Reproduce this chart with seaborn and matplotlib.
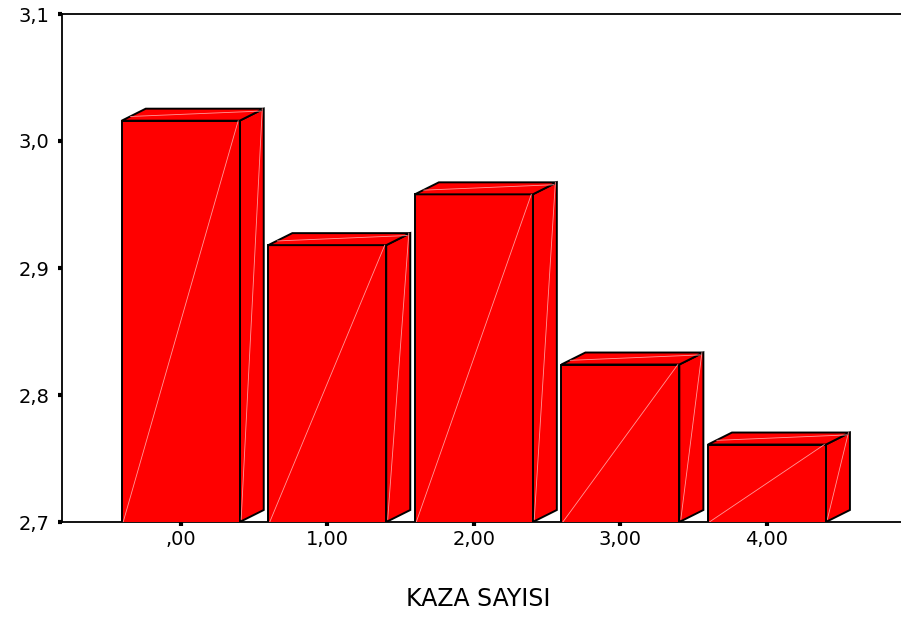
import matplotlib
matplotlib.use("Agg")
import matplotlib.pyplot as plt
from matplotlib.patches import Polygon
import seaborn as sns
import pandas as pd

# Mean score by number of accidents
categories = [",00", "1,00", "2,00", "3,00", "4,00"]
means = [3.016, 2.918, 2.958, 2.824, 2.761]
y_ticks = [2.7, 2.8, 2.9, 3.0, 3.1]
y_tick_labels = ["2,7", "2,8", "2,9", "3,0", "3,1"]

sns.set_theme(style="white")
plt.rcParams["font.family"] = ["DejaVu Sans"]

fig = plt.figure(figsize=(9.01, 6.23), dpi=100)
W, H = 901, 623
left, right, top, bottom = 62, 901, 14, 522
ax = fig.add_axes([left / W, 1 - bottom / H, (right - left) / W, (bottom - top) / H])

df = pd.DataFrame({"KAZA SAYISI": categories, "mean": means})
bar_w = 0.805
sns.barplot(data=df, x="KAZA SAYISI", y="mean", color="#ff0000", saturation=1,
            width=bar_w, edgecolor="black", linewidth=1.4, ax=ax, zorder=3)

ymin, ymax = 2.7, 3.1
ax.set_ylim(ymin, ymax)
ax.set_xlim(-0.81, 4.915)

# extruded top and side faces for the 3D look
dx = 0.164
dy = 12 / (bottom - top) * (ymax - ymin)
hl = dict(color="#ff9a9a", lw=0.6, zorder=5)
for p in ax.patches:
    x0 = p.get_x()
    x1 = x0 + p.get_width()
    v = p.get_y() + p.get_height()
    side = Polygon([(x1, ymin), (x1 + dx, ymin + dy), (x1 + dx, v + dy), (x1, v)],
                   closed=True, facecolor="#ff0000", edgecolor="black", lw=1.4, zorder=2)
    topf = Polygon([(x0, v), (x0 + dx, v + dy), (x1 + dx, v + dy), (x1, v)],
                   closed=True, facecolor="#ff0000", edgecolor="black", lw=1.4, zorder=4)
    ax.add_patch(side)
    ax.add_patch(topf)
    # faint shading seams across each face
    ax.plot([x0 + 0.01, x1 - 0.01], [ymin, v], **hl)
    ax.plot([x1 + 0.01, x1 + dx - 0.01], [ymin + 0.002, v + dy], **hl)
    ax.plot([x0 + 0.06, x1 + dx - 0.02], [v + dy * 0.35, v + dy * 0.8], **hl)

ax.set_yticks(y_ticks)
ax.set_yticklabels(y_tick_labels)
ax.tick_params(axis="both", which="both", direction="out", length=3, width=3,
               color="black", labelsize=14, labelcolor="black",
               bottom=True, left=True)
ax.tick_params(axis="y", pad=6)
ax.tick_params(axis="x", pad=3)

for s in ["left", "top", "bottom"]:
    ax.spines[s].set_visible(True)
    ax.spines[s].set_color("black")
    ax.spines[s].set_linewidth(1.3)
ax.spines["right"].set_visible(False)

ax.set_ylabel("")
ax.set_xlabel("KAZA SAYISI", fontsize=17, color="black")
ax.xaxis.set_label_coords(0.496, -0.128)

fig.savefig("out.png", dpi=100)
